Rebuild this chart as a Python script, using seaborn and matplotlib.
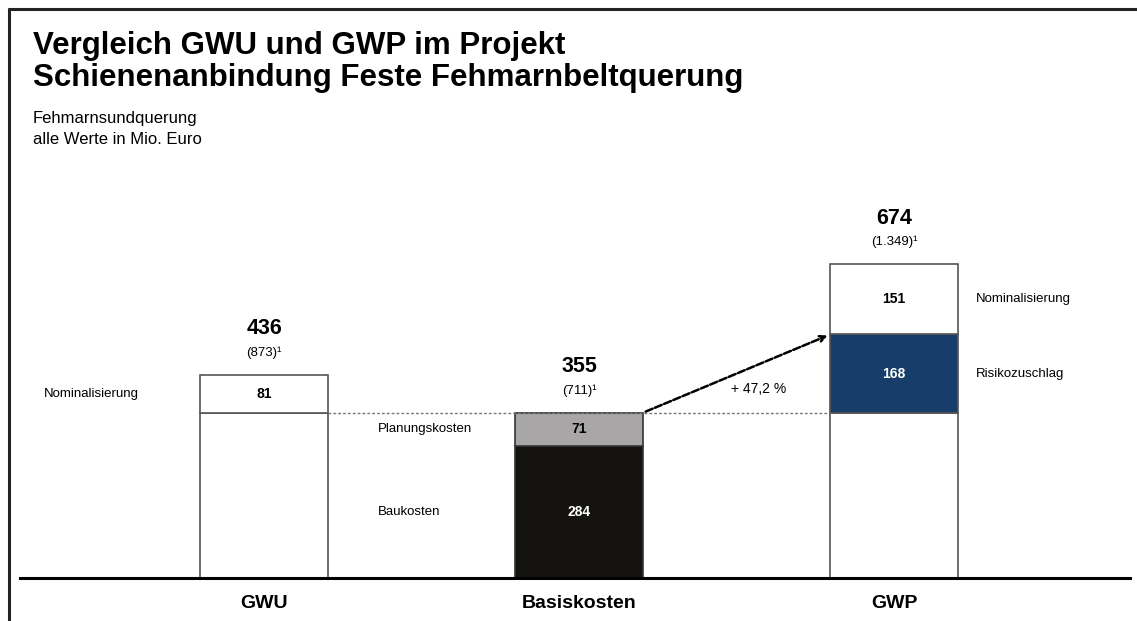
import seaborn as sns
import matplotlib.pyplot as plt
from matplotlib.lines import Line2D

# Data (Mio. Euro)
categories = ["GWU", "Basiskosten", "GWP"]
seg_category = ["GWU", "GWU", "Basiskosten", "Basiskosten", "GWP", "GWP", "GWP"]
seg_name = ["Basis", "Nominalisierung", "Baukosten", "Planungskosten", "Basis", "Risikozuschlag", "Nominalisierung"]
seg_value = [355, 81, 284, 71, 355, 168, 151]
seg_label = ["", "81", "284", "71", "", "168", "151"]
totals = [436, 355, 674]
totals_nominal = ["(873)¹", "(711)¹", "(1.349)¹"]
increase_label = "+ 47,2 %"

seg_colors = {"Basis": "white", "Nominalisierung": "white", "Baukosten": "#151310",
              "Planungskosten": "#a8a6a6", "Risikozuschlag": "#173e6a"}
seg_text_colors = {"Baukosten": "white", "Risikozuschlag": "white"}

sns.set_style("white")
plt.rcParams["font.family"] = ["Liberation Sans", "DejaVu Sans"]
plt.rcParams["text.color"] = "black"
plt.rcParams["xtick.color"] = "black"

fig = plt.figure(figsize=(11.37, 6.21), dpi=100)
ax = fig.add_axes([20 / 1137, 43 / 621, 1110 / 1137, 372.5 / 621])

# stacked segments
bottoms = {c: 0 for c in categories}
seg_bottom = []
for cat, name, val in zip(seg_category, seg_name, seg_value):
    b = bottoms[cat]
    seg_bottom.append(b)
    edge = "#333333" if name in ("Planungskosten", "Baukosten") else "#555555"
    sns.barplot(x=[cat], y=[val], order=categories, bottom=b, color=seg_colors[name],
                edgecolor=edge, linewidth=1.2, width=0.406, saturation=1, ax=ax)
    bottoms[cat] = b + val

ax.set_xlim(-0.775, 2.749)
ax.set_ylim(0, 800)

# values inside segments
for cat, name, val, b, lab in zip(seg_category, seg_name, seg_value, seg_bottom, seg_label):
    if lab:
        x = categories.index(cat)
        ax.text(x, b + val / 2, lab, ha="center", va="center", fontsize=10, fontweight="bold",
                color=seg_text_colors.get(name, "black"))

# totals above bars
for i, (tot, nom) in enumerate(zip(totals, totals_nominal)):
    ax.text(i, tot + 99, str(tot), ha="center", va="center", fontsize=15.5, fontweight="bold")
    ax.text(i, tot + 48, nom, ha="center", va="center", fontsize=9.5)

# segment names
ax.text(-0.7, 355 + 81 / 2, "Nominalisierung", ha="left", va="center", fontsize=9.5)
ax.text(0.36, 355 - 71 / 2, "Planungskosten", ha="left", va="center", fontsize=9.5)
ax.text(0.36, 284 / 2, "Baukosten", ha="left", va="center", fontsize=9.5)
ax.text(2.26, 355 + 168 + 151 / 2, "Nominalisierung", ha="left", va="center", fontsize=9.5)
ax.text(2.26, 355 + 168 / 2, "Risikozuschlag", ha="left", va="center", fontsize=9.5)

# dotted reference line and arrow
ax.plot([0.203, 1.797], [355, 355], ls=(0, (2, 1.5)), color="#777777", lw=1)
ax.annotate("", xy=(1.797, 355 + 168), xytext=(1.203, 355),
            arrowprops=dict(arrowstyle="->", ls=(0, (3, 1)), color="black", lw=1.8))
ax.text(1.57, 405, increase_label, ha="center", va="center", fontsize=10)

# axes styling
sns.despine(ax=ax, left=True)
ax.spines["bottom"].set_linewidth(2.2)
ax.spines["bottom"].set_color("black")
ax.set_yticks([])
ax.set_xlabel("")
ax.set_ylabel("")
ax.tick_params(axis="x", length=0, pad=12)
for t in ax.get_xticklabels():
    t.set_fontsize(14)
    t.set_fontweight("bold")

# titles
fig.text(33 / 1137, 1 - 46 / 621, "Vergleich GWU und GWP im Projekt", fontsize=22.5,
         fontweight="bold", va="center", ha="left")
fig.text(33 / 1137, 1 - 78 / 621, "Schienenanbindung Feste Fehmarnbeltquerung", fontsize=22.5,
         fontweight="bold", va="center", ha="left")
fig.text(33 / 1137, 1 - 118 / 621, "Fehmarnsundquerung", fontsize=12, va="center", ha="left")
fig.text(33 / 1137, 1 - 140 / 621, "alle Werte in Mio. Euro", fontsize=12, va="center", ha="left")

# frame lines
fig.add_artist(Line2D([9 / 1137, 1], [1 - 9 / 621, 1 - 9 / 621], color="#222222", lw=2.2))
fig.add_artist(Line2D([9 / 1137, 9 / 1137], [0, 1 - 9 / 621], color="#222222", lw=2.2))

fig.savefig("out.png", dpi=100)
